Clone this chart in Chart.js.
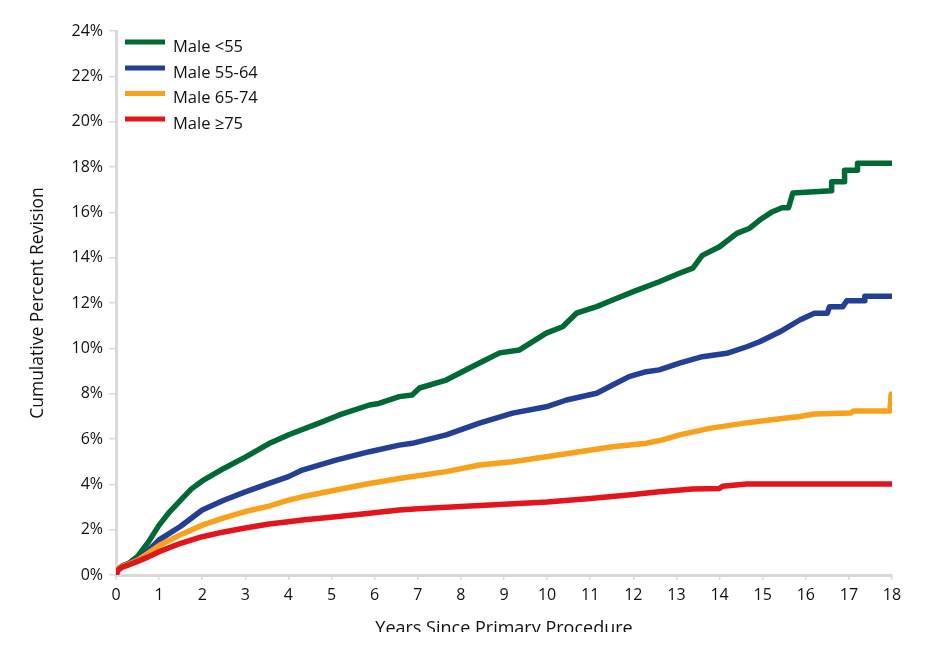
<!DOCTYPE html>
<html>
<head>
<meta charset="utf-8">
<script src="https://cdn.jsdelivr.net/npm/chart.js@4"></script>
<style>
  html, body { margin: 0; padding: 0; background: #fff; }
  #wrap { width: 944px; height: 632px; overflow: hidden; position: relative; }
  canvas { display: block; }
</style>
</head>
<body>
<div id="wrap"><canvas id="c" width="944" height="665"></canvas></div>
<script>
// ---- Data ----
const seriesNames = ['Male <55', 'Male 55-64', 'Male 65-74', 'Male \u226575'];

const yearsU55 = [0, 0.05, 0.15, 0.3, 0.5, 0.75, 1, 1.25, 1.5, 1.75, 2, 2.5, 3, 3.55, 4.02, 4.71, 5.18, 5.88, 6.1, 6.57, 6.87, 7.04, 7.66, 8.43, 8.9, 9.36, 9.98, 10.36, 10.68, 11.15, 11.52, 12.0, 12.6, 13.07, 13.38, 13.6, 14.0, 14.4, 14.7, 14.93, 15.2, 15.45, 15.6, 15.7, 16.1, 16.6, 16.6, 16.9, 16.9, 17.2, 17.2, 18];
const pctU55   = [0, 0.25, 0.4, 0.52, 0.82, 1.45, 2.2, 2.8, 3.3, 3.8, 4.15, 4.7, 5.2, 5.8, 6.2, 6.7, 7.06, 7.5, 7.57, 7.87, 7.94, 8.25, 8.6, 9.35, 9.8, 9.93, 10.67, 10.95, 11.55, 11.84, 12.13, 12.5, 12.94, 13.31, 13.54, 14.1, 14.48, 15.07, 15.3, 15.66, 16.0, 16.2, 16.2, 16.85, 16.9, 16.95, 17.35, 17.35, 17.86, 17.86, 18.17, 18.17];

const years5564 = [0, 0.05, 0.15, 0.3, 0.5, 0.75, 1, 1.5, 2, 2.5, 3, 3.55, 4, 4.32, 5.1, 5.88, 6.57, 6.87, 7.66, 8.43, 9.2, 9.98, 10.45, 11.15, 11.52, 11.9, 12.3, 12.6, 13.07, 13.6, 14.17, 14.63, 14.93, 15.4, 15.86, 16.2, 16.5, 16.55, 16.86, 16.95, 17.37, 17.37, 18];
const pct5564   = [0, 0.25, 0.4, 0.5, 0.68, 1.08, 1.55, 2.15, 2.87, 3.3, 3.67, 4.04, 4.34, 4.63, 5.07, 5.44, 5.73, 5.81, 6.18, 6.7, 7.14, 7.42, 7.72, 8.02, 8.38, 8.75, 8.97, 9.05, 9.35, 9.63, 9.78, 10.07, 10.29, 10.73, 11.25, 11.55, 11.55, 11.84, 11.84, 12.1, 12.1, 12.3, 12.3];

const years6574 = [0, 0.05, 0.15, 0.3, 0.5, 0.75, 1, 1.5, 2, 2.5, 3, 3.55, 4, 4.32, 5.1, 5.88, 6.57, 7.66, 8.43, 9.2, 9.98, 10.75, 11.52, 12.3, 12.68, 13.07, 13.77, 14.54, 15.16, 15.86, 16.2, 17.05, 17.1, 17.95, 17.98];
const pct6574   = [0, 0.25, 0.38, 0.48, 0.65, 0.97, 1.3, 1.78, 2.2, 2.52, 2.8, 3.04, 3.3, 3.45, 3.75, 4.04, 4.26, 4.56, 4.85, 5.0, 5.22, 5.44, 5.66, 5.81, 5.96, 6.18, 6.47, 6.69, 6.84, 6.99, 7.1, 7.15, 7.23, 7.23, 7.98];

const years75 = [0, 0.05, 0.15, 0.3, 0.5, 0.75, 1, 1.5, 2, 2.5, 3, 3.55, 4, 4.32, 5.1, 5.88, 6.57, 7, 8, 9, 10, 11, 12, 12.6, 13.38, 14.0, 14.07, 14.63, 18];
const pct75   = [0, 0.22, 0.35, 0.45, 0.6, 0.8, 1.03, 1.4, 1.69, 1.9, 2.07, 2.25, 2.35, 2.43, 2.57, 2.72, 2.87, 2.92, 3.02, 3.12, 3.22, 3.38, 3.55, 3.67, 3.79, 3.82, 3.92, 4.01, 4.01];

const xTicks = [0,1,2,3,4,5,6,7,8,9,10,11,12,13,14,15,16,17,18];
const yTicks = [0,2,4,6,8,10,12,14,16,18,20,22,24];

const colors = ['#006a35', '#233f96', '#f9a11b', '#e3141c'];
const FONT = '"Open Sans", "Noto Sans", sans-serif';

function pts(xs, ys) { return xs.map((x, i) => ({ x: x, y: ys[i] })); }

const seriesData = [pts(yearsU55, pctU55), pts(years5564, pct5564), pts(years6574, pct6574), pts(years75, pct75)];

const legendPlugin = {
  id: 'innerLegend',
  afterDraw(chart) {
    const ctx = chart.ctx;
    ctx.save();
    const x0 = 125, x1 = 165, tx = 173;
    const rowY = [42, 68, 93.5, 119];
    seriesNames.forEach((name, i) => {
      ctx.strokeStyle = colors[i];
      ctx.lineWidth = 5;
      ctx.lineCap = 'butt';
      ctx.beginPath();
      ctx.moveTo(x0, rowY[i]);
      ctx.lineTo(x1, rowY[i]);
      ctx.stroke();
      ctx.fillStyle = '#111';
      ctx.font = '16.5px ' + FONT;
      ctx.textBaseline = 'middle';
      ctx.textAlign = 'left';
      ctx.fillText(name, tx, rowY[i] + 5);
    });
    ctx.restore();
  }
};

new Chart(document.getElementById('c'), {
  type: 'line',
  data: {
    datasets: seriesNames.map((name, i) => ({
      label: name,
      data: seriesData[i],
      borderColor: colors[i],
      backgroundColor: colors[i],
      borderWidth: 5.5,
      pointRadius: 0,
      tension: 0,
      fill: false,
      borderJoinStyle: 'round',
      borderCapStyle: 'round'
    })).reverse()
  },
  options: {
    responsive: false,
    devicePixelRatio: 1,
    animation: false,
    layout: { padding: { top: 31, right: 52, bottom: 0, left: 0 } },
    plugins: { legend: { display: false }, tooltip: { enabled: false } },
    scales: {
      x: {
        type: 'linear',
        min: 0, max: 18,
        afterBuildTicks(scale) { scale.ticks = xTicks.map(v => ({ value: v })); },
        afterFit(scale) { scale.height = 90; },
        ticks: { color: '#111', font: { family: FONT, size: 16 }, padding: 6, maxRotation: 0 },
        grid: { drawOnChartArea: false, drawTicks: true, tickLength: 5, color: '#d9d9d9', lineWidth: 1.5 },
        border: { display: true, color: '#d9d9d9', width: 3 },
        title: { display: true, text: 'Years Since Primary Procedure', color: '#111', font: { family: FONT, size: 18 }, padding: { top: 0, bottom: 25 } }
      },
      y: {
        type: 'linear',
        min: 0, max: 24,
        afterBuildTicks(scale) { scale.ticks = yTicks.map(v => ({ value: v })); },
        afterFit(scale) { scale.width = 116; },
        ticks: { color: '#111', font: { family: FONT, size: 16 }, padding: 6, callback: v => v + '%' },
        grid: { drawOnChartArea: false, drawTicks: true, tickLength: 7, color: '#d9d9d9', lineWidth: 1.5 },
        border: { display: true, color: '#d9d9d9', width: 3 },
        title: { display: true, text: 'Cumulative Percent Revision', color: '#111', font: { family: FONT, size: 17.5 }, padding: { top: 28, bottom: 0 } }
      }
    }
  },
  plugins: [legendPlugin]
});
</script>
</body>
</html>
